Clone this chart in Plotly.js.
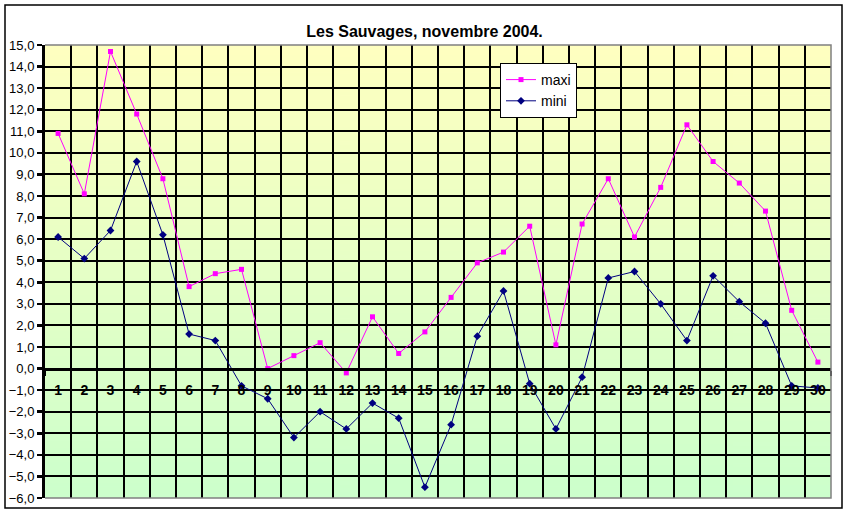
<!DOCTYPE html>
<html>
<head>
<meta charset="utf-8">
<script src="https://cdn.plot.ly/plotly-3.0.1.min.js"></script>
<style>html,body{margin:0;padding:0;background:#fff;}#chart{width:849px;height:515px;}</style>
</head>
<body>
<div id="chart"></div>
<script>
// ---- data ----
const days = ["1","2","3","4","5","6","7","8","9","10","11","12","13","14","15","16","17","18","19","20","21","22","23","24","25","26","27","28","29","30"];
const maxi = [10.9, 8.1, 14.7, 11.8, 8.8, 3.8, 4.4, 4.6, 0.0, 0.6, 1.2, -0.2, 2.4, 0.7, 1.7, 3.3, 4.9, 5.4, 6.6, 1.1, 6.7, 8.8, 6.1, 8.4, 11.3, 9.6, 8.6, 7.3, 2.7, 0.3];
const mini = [6.1, 5.1, 6.4, 9.6, 6.2, 1.6, 1.3, -0.8, -1.4, -3.2, -2.0, -2.8, -1.6, -2.3, -5.5, -2.6, 1.5, 3.6, -0.7, -2.8, -0.4, 4.2, 4.5, 3.0, 1.3, 4.3, 3.1, 2.1, -0.8, -0.9];
const yMin = -6, yMax = 15;

// ---- background gradient image ----
const cv = document.createElement('canvas');
cv.width = 4; cv.height = 256;
const ctx = cv.getContext('2d');
const g = ctx.createLinearGradient(0, 0, 0, 256);
g.addColorStop(0, 'rgb(255,255,192)');
g.addColorStop(1, 'rgb(204,255,204)');
ctx.fillStyle = g; ctx.fillRect(0, 0, 4, 256);
const bgURL = cv.toDataURL('image/png');

const font = '"Liberation Sans", Arial, sans-serif';

const traces = [
  {x: days, y: maxi, name: 'maxi', type: 'scatter', mode: 'lines+markers',
   line: {color: '#FF00FF', width: 1}, marker: {symbol: 'square', size: 5, color: '#FF00FF'}},
  {x: days, y: mini, name: 'mini', type: 'scatter', mode: 'lines+markers',
   line: {color: '#000080', width: 1}, marker: {symbol: 'diamond', size: 6, color: '#000080'}}
];

const layout = {
  width: 849, height: 515,
  margin: {l: 45, r: 18, t: 45, b: 17},
  paper_bgcolor: '#ffffff',
  plot_bgcolor: 'rgba(0,0,0,0)',
  separators: ', ',
  font: {family: font, color: '#000'},
  showlegend: true,
  title: {text: '<b>Les Sauvages, novembre 2004.</b>', font: {family: font, size: 16, color: '#000'},
          x: 0.5, xanchor: 'center', y: 0.94, yanchor: 'middle'},
  xaxis: {
    type: 'category', anchor: 'free', position: (0 - yMin) / (yMax - yMin),
    range: [-0.5, days.length - 0.5], autorange: false,
    tickangle: 0,
    tickson: 'boundaries', ticks: 'outside', ticklen: 5, tickwidth: 2, tickcolor: '#000',
    showline: true, linecolor: '#000', linewidth: 3,
    showgrid: true, gridcolor: '#000', gridwidth: 2,
    tickfont: {family: font, size: 14, color: '#000', weight: 'bold'},
    ticklabelstandoff: 8,
    zeroline: false, fixedrange: true
  },
  yaxis: {
    range: [yMin, yMax], autorange: false, dtick: 1, tick0: 0, tickformat: '.1f',
    ticks: 'outside', ticklen: 5, tickwidth: 2.5, tickcolor: '#000',
    showline: true, linecolor: '#000', linewidth: 3,
    showgrid: true, gridcolor: '#000', gridwidth: 2,
    zeroline: false,
    tickfont: {family: font, size: 13, color: '#000'},
    fixedrange: true
  },
  legend: {
    x: (500 - 45) / 786, y: (498 - 63) / 453, xanchor: 'left', yanchor: 'top',
    bgcolor: '#ffffff', bordercolor: '#000', borderwidth: 1,
    font: {family: font, size: 14, color: '#000'},
    itemwidth: 30
  },
  images: [{source: bgURL, xref: 'paper', yref: 'paper', x: 0, y: 1, sizex: 1, sizey: 1,
            sizing: 'stretch', xanchor: 'left', yanchor: 'top', layer: 'below'}],
  shapes: [
    {type: 'path', xref: 'paper', yref: 'paper', path: 'M0,0 L1,0 L1,1 L0,1',
     line: {color: '#808080', width: 1.5}, layer: 'above'},
    {type: 'rect', xref: 'paper', yref: 'paper',
     x0: (5 - 45) / 786, x1: (842 - 45) / 786, y0: (498 - 508) / 453, y1: (498 - 5) / 453,
     line: {color: '#000', width: 1.5}, fillcolor: 'rgba(0,0,0,0)', layer: 'above'}
  ]
};

Plotly.newPlot('chart', traces, layout, {displayModeBar: false, staticPlot: true});
</script>
</body>
</html>
